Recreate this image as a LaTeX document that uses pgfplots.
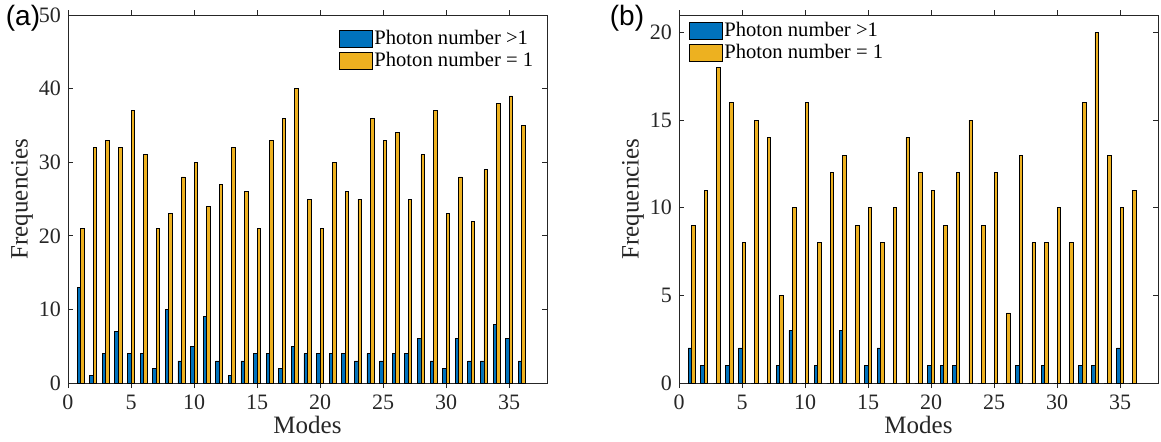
\documentclass[border=0pt]{standalone}
\usepackage{pgfplots}
\pgfplotsset{compat=1.18}
\usepackage{pgfplotstable}
\usepackage{fontspec}
\setmainfont{Liberation Serif}
\newfontfamily\panelfont{Liberation Sans}

\definecolor{mblue}{rgb}{0,0.447,0.741}
\definecolor{myellow}{rgb}{0.929,0.694,0.125}
\definecolor{axgray}{rgb}{0.15,0.15,0.15}

% mode, photon number >1, photon number = 1
\pgfplotstableread{
mode gt eq
1 13 21
2 1 32
3 4 33
4 7 32
5 4 37
6 4 31
7 2 21
8 10 23
9 3 28
10 5 30
11 9 24
12 3 27
13 1 32
14 3 26
15 4 21
16 4 33
17 2 36
18 5 40
19 4 25
20 4 21
21 4 30
22 4 26
23 3 25
24 4 36
25 3 33
26 4 34
27 4 25
28 6 31
29 3 37
30 2 23
31 6 28
32 3 22
33 3 29
34 8 38
35 6 39
36 3 35
}\dataa

\pgfplotstableread{
mode gt eq
1 2 9
2 1 11
3 0 18
4 1 16
5 2 8
6 0 15
7 0 14
8 1 5
9 3 10
10 0 16
11 1 8
12 0 12
13 3 13
14 0 9
15 1 10
16 2 8
17 0 10
18 0 14
19 0 12
20 1 11
21 1 9
22 1 12
23 0 15
24 0 9
25 0 12
26 0 4
27 1 13
28 0 8
29 1 8
30 0 10
31 0 8
32 1 16
33 1 20
34 0 13
35 2 10
36 0 11
}\datab

\pgfplotsset{modebar/.style={
  width=239.5pt, height=184pt, scale only axis,
  xmin=0, xmax=38, ymin=0,
  xtick={0,5,...,35},
  tick align=inside, major tick length=2.5pt,
  axis line style={axgray}, every tick/.style={axgray, line width=0.4pt},
  tick label style={font=\fontsize{11}{12}\selectfont, text=axgray},
  /pgf/number format/assume math mode=true,
  label style={font=\fontsize{12.5}{14}\selectfont, text=axgray},
  xlabel=Modes, ylabel=Frequencies,
  x label style={at={(axis description cs:0.5,-0.114)}, anchor=center},
  y label style={at={(axis description cs:-0.096,0.5)}, anchor=center},
  ybar, bar width=0.28,
  legend cell align=left,
  legend style={draw=none, fill=white, inner sep=0pt, anchor=north west,
    font=\fontsize{10.3}{11.5}\selectfont, row sep=0.5pt,
    nodes={inner sep=0.8pt}},
  legend image code/.code={\draw[#1,draw=black] (0pt,-4.25pt) rectangle (16.5pt,4.25pt);},
}}

\begin{document}
\begin{tikzpicture}
\path[use as bounding box] (-34pt,-29pt) rectangle (546.5pt,191.5pt);

\begin{axis}[modebar, name=A, ymax=50, ytick={0,10,...,50},
  legend style={at={(0.565,0.963)}}]
\addplot[fill=mblue, draw=black, line width=0.4pt, bar shift=-0.14] table[x=mode,y=gt]{\dataa};
\addplot[fill=myellow, draw=black, line width=0.4pt, bar shift=0.14] table[x=mode,y=eq]{\dataa};
\legend{Photon number >1, Photon number = 1}
\end{axis}
\node[font=\fontsize{14}{16}\panelfont] at ([xshift=-22.5pt,yshift=-1.5pt]A.north west) {(a)};

\begin{axis}[modebar, name=B, at={(305.5pt,0pt)}, ymax=21, ytick={0,5,...,20},
  legend style={at={(0.02,0.985)}}]
\addplot[fill=mblue, draw=black, line width=0.4pt, bar shift=-0.14] table[x=mode,y=gt]{\datab};
\addplot[fill=myellow, draw=black, line width=0.4pt, bar shift=0.14] table[x=mode,y=eq]{\datab};
\legend{Photon number >1, Photon number = 1}
\end{axis}
\node[font=\fontsize{14}{16}\panelfont] at ([xshift=-26pt,yshift=-1.5pt]B.north west) {(b)};
\end{tikzpicture}
\end{document}
